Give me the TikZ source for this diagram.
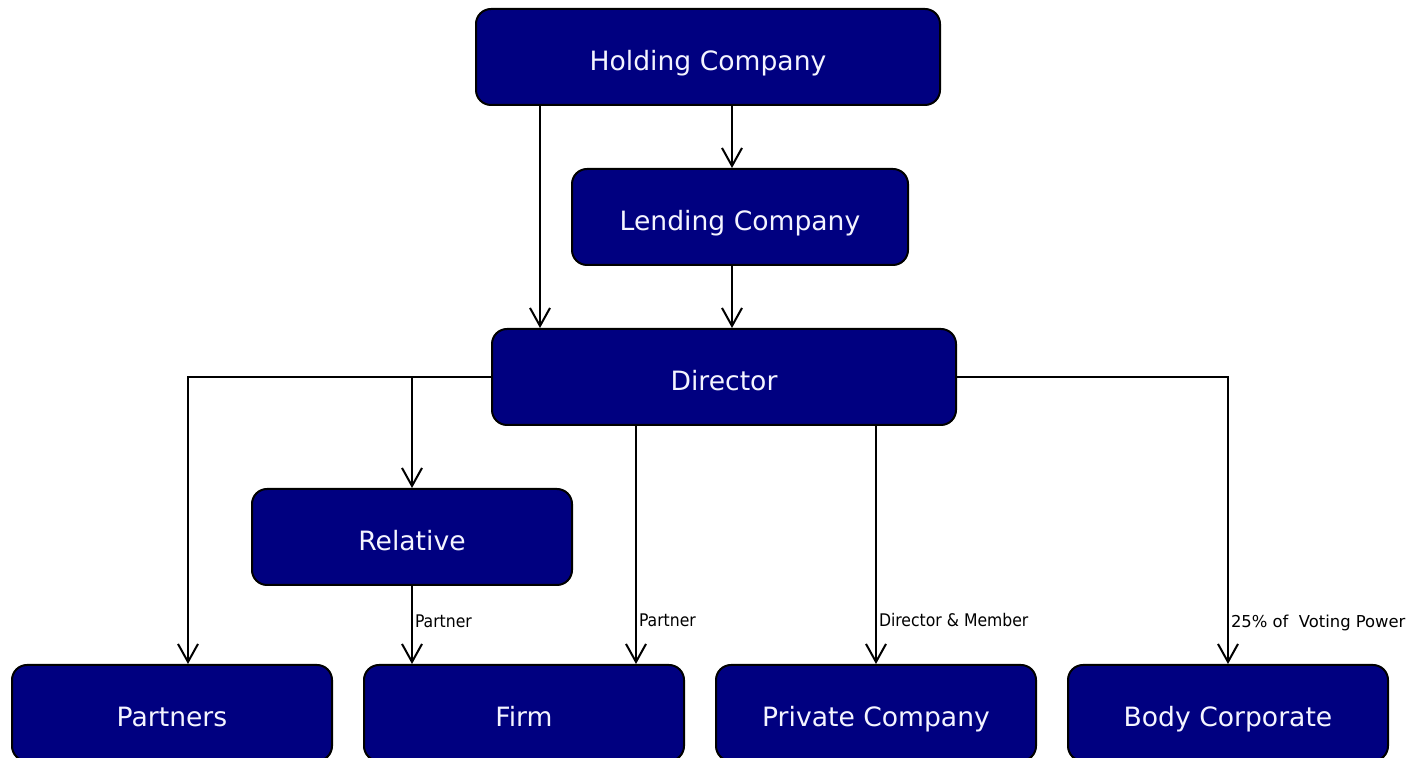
\documentclass[tikz,border=0pt]{standalone}
\usepackage{fontspec}
\setmainfont{DejaVu Sans}
\newfontfamily\lblfont{DejaVu Sans Condensed}
\usetikzlibrary{arrows.meta,calc}
\definecolor{boxnavy}{HTML}{000080}
\definecolor{boxtext}{HTML}{F4F4FF}
\begin{document}
\begin{tikzpicture}[x=0.5pt,y=-0.5pt,
  box/.style={draw=black,line width=1pt,fill=boxnavy,rounded corners=7.5pt,
    minimum height=48pt,inner sep=0pt,text=boxtext,font=\fontsize{13.3}{15}\selectfont,
    text height=14pt,text depth=0pt},
  wide/.style={box,minimum width=232pt},
  mid/.style={box,minimum width=168pt},
  small/.style={box,minimum width=160pt},
  arr/.style={line width=1pt,-{Straight Barb[length=9pt,width=10pt,line width=1pt]}},
  lbl/.style={font=\lblfont\fontsize{8.7}{10}\selectfont,anchor=west,inner sep=1pt,text=black},
  lblwide/.style={lbl,font=\fontsize{8.2}{10}\selectfont}]
\useasboundingbox (0,0) rectangle (1410,758);
\node[wide]  (hold) at (708,57) {Holding Company};
\node[mid]   (lend) at (740,217) {Lending Company};
\node[wide]  (dir)  at (724,377) {Director};
\node[small] (rel)  at (412,537) {Relative};
\node[small] (part) at (172,713) {Partners};
\node[small] (firm) at (524,713) {Firm};
\node[small] (priv) at (876,713) {Private Company};
\node[small] (body) at (1228,713) {Body Corporate};
\coordinate (xa) at (540,0);
\coordinate (xb) at (732,0);
\coordinate (xc) at (188,0);
\coordinate (xd) at (636,0);
\draw[arr] (hold.south -| xa) -- (dir.north -| xa);
\draw[arr] (hold.south -| xb) -- (lend.north -| xb);
\draw[arr] (lend.south -| xb) -- (dir.north -| xb);
\draw[arr] (dir.west) -| (part.north -| xc);
\draw[arr] (dir.west -| rel.north) -- (rel.north);
\draw[arr] (rel.south) -- node[lbl,pos=0.45]{Partner} (firm.north -| rel.south);
\draw[arr] (dir.south -| xd) -- node[lbl,pos=0.817]{Partner} (firm.north -| xd);
\draw[arr] (dir.south -| priv.north) -- node[lbl,pos=0.817]{Director \& Member} (priv.north);
\draw[arr] (dir.east) -| node[lblwide,pos=0.928]{25\% of\ \ Voting Power} (body.north);
\end{tikzpicture}
\end{document}
